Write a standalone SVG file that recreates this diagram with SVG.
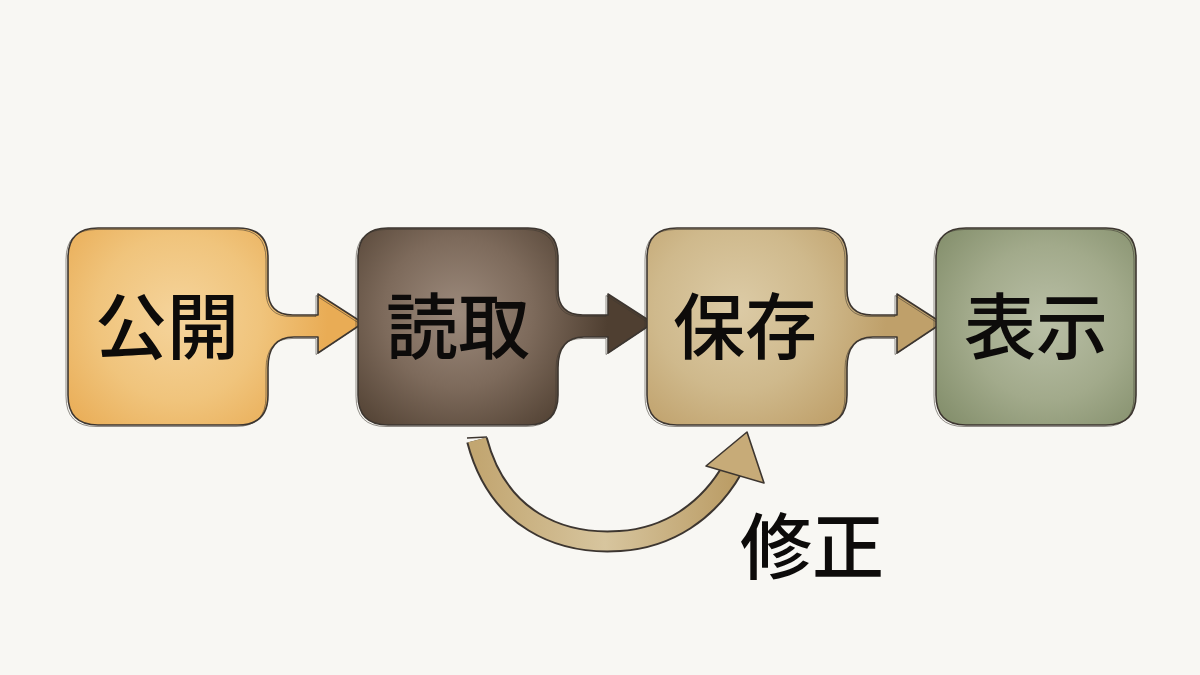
<svg xmlns="http://www.w3.org/2000/svg" width="1200" height="675" viewBox="0 0 1200 675">
<style>
.ink{fill:none;stroke:#3d3630;stroke-width:1.6;stroke-linejoin:round}
.ink2{fill:none;stroke:#3d3630;stroke-width:1;stroke-opacity:0.55;stroke-linejoin:round}
.lbl{font-family:"Noto Sans CJK JP","Noto Sans CJK SC",sans-serif;font-weight:500;font-size:72px;fill:#0d0b0a;text-anchor:middle;dominant-baseline:central}
</style>
<defs>
<path id="tailbox" d="M30 0 H170 Q200 0 200 30 V62 Q200 87 225 87 H250 V66 L295 95 L250 125 V109 H226 Q200 109 200 140 V167 Q200 197 170 197 H30 Q0 197 0 167 V30 Q0 0 30 0 Z"/>
<path id="box" d="M30 0 H170 Q200 0 200 30 V167 Q200 197 170 197 H30 Q0 197 0 167 V30 Q0 0 30 0 Z"/>
<radialGradient id="g1" gradientUnits="userSpaceOnUse" cx="110" cy="90" r="150">
<stop offset="0" stop-color="#f5d49c"/><stop offset="0.55" stop-color="#f0c47c"/><stop offset="1" stop-color="#e9ac55"/></radialGradient>
<radialGradient id="g2" gradientUnits="userSpaceOnUse" cx="100" cy="85" r="150">
<stop offset="0" stop-color="#9c8a7c"/><stop offset="0.5" stop-color="#7d6a5b"/><stop offset="1" stop-color="#4f3f31"/></radialGradient>
<radialGradient id="g3" gradientUnits="userSpaceOnUse" cx="90" cy="80" r="150">
<stop offset="0" stop-color="#dccba6"/><stop offset="0.55" stop-color="#cfb98c"/><stop offset="1" stop-color="#bfa06a"/></radialGradient>
<radialGradient id="g4" gradientUnits="userSpaceOnUse" cx="110" cy="95" r="140">
<stop offset="0" stop-color="#b9bfa6"/><stop offset="0.55" stop-color="#a2aa8b"/><stop offset="1" stop-color="#848f6c"/></radialGradient>
<linearGradient id="ga" x1="0" y1="0" x2="1" y2="0">
<stop offset="0" stop-color="#c2a671"/><stop offset="0.5" stop-color="#d7c59e"/><stop offset="1" stop-color="#bb9d66"/></linearGradient>
</defs>
<rect width="1200" height="675" fill="#f8f7f3"/>

<g id="connectors">
<path d="M477 440 C498 520 560 545 620 541 C668 538 708 512 733 468" fill="none" stroke="#3d3630" stroke-width="22" stroke-linecap="butt"/>
<path d="M477 440 C498 520 560 545 620 541 C668 538 708 512 733 468" fill="none" stroke="url(#ga)" stroke-width="18" stroke-linecap="butt"/>
<path d="M467 438 L487 437" stroke="#3d3630" stroke-width="1.5"/>
<polygon points="706,466 747,432 764,483" fill="#c7ab78" stroke="#3d3630" stroke-width="1.6" stroke-linejoin="round"/>
</g>

<g id="node-koukai" transform="translate(68,228)">
<use href="#tailbox" fill="url(#g1)"/>
<use href="#tailbox" class="ink"/>
<use href="#tailbox" class="ink2" transform="translate(-2,1.5)"/>
<text class="lbl" x="99" y="93">公開</text>
</g>

<g id="node-yomitori" transform="translate(358,228)">
<use href="#tailbox" fill="url(#g2)"/>
<use href="#tailbox" class="ink"/>
<use href="#tailbox" class="ink2" transform="translate(-2,1.5)"/>
<text class="lbl" x="100" y="93">読取</text>
</g>

<g id="node-hozon" transform="translate(647,228)">
<use href="#tailbox" fill="url(#g3)"/>
<use href="#tailbox" class="ink"/>
<use href="#tailbox" class="ink2" transform="translate(-2,1.5)"/>
<text class="lbl" x="98" y="93">保存</text>
</g>

<g id="node-hyouji" transform="translate(936,228)">
<use href="#box" fill="url(#g4)"/>
<use href="#box" class="ink"/>
<use href="#box" class="ink2" transform="translate(-2,1.5)"/>
<text class="lbl" x="100" y="93">表示</text>
</g>

<g id="label-shusei">
<text class="lbl" x="812" y="541">修正</text>
</g>
</svg>
